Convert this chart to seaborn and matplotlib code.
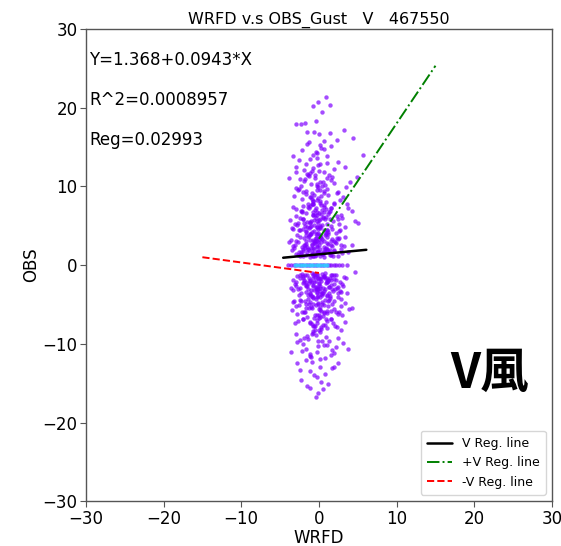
import matplotlib
matplotlib.use("Agg")
import matplotlib.pyplot as plt
import seaborn as sns
import numpy as np
import pandas as pd

# ---------------- data ----------------
# upper cloud, y in [1, 4]
u1_x = [-0.4, 1.2, -2.1, 0.3, -1.0, 2.4, -0.2, -3.1, 0.8, -1.6,
        0.1, -0.8, 1.7, -2.7, 0.5, -1.3, 3.2, -0.6, 1.0, -2.3,
        -1.9, 0.7, -0.1, 2.0, -3.5, -0.9, 1.4, -1.5, 0.2, 2.8,
        -0.5, 1.9, -2.5, 0.0, -1.2, 0.9, -3.0, 1.5, -0.3, -1.8,
        0.4, -0.7, 2.2, -1.4, 3.7, -0.2, -2.0, 1.1, -1.1, 0.6,
        -2.9, -0.4, 1.3, -1.7, 0.3, 2.6, -0.9, -3.3, 0.8, -0.1,
        -1.3, 1.6, -2.2, 0.1, -0.6, 2.9, -1.6, 0.5, -2.6, 1.8,
        -0.8, 0.9, -3.8, -0.3, 1.2, -1.9, 0.2, 2.3, -1.0, -0.5,
        3.0, -2.4, 0.6, -1.4, -0.2, 1.4, -3.2, 0.0, -0.9, 2.1,
        -1.7, 0.4, -0.6, 1.7, -2.8, -1.1, 0.7, 4.2, -0.4, -2.1,
        0.2, -1.5, 2.5, -0.7, 1.0, -2.3, -0.1, -3.6, 1.5, -1.2,
        -0.3, 0.8, -1.8, 3.4, -0.8, 0.3, -2.7, 1.1, -0.5, 2.0]
u1_y = [1.3, 2.7, 1.8, 3.5, 2.2, 1.1, 3.9, 2.6, 1.6, 3.1,
        2.0, 1.2, 3.3, 2.9, 1.5, 3.7, 2.4, 2.8, 1.9, 1.4,
        3.4, 2.3, 1.7, 3.0, 1.9, 2.5, 1.3, 1.6, 3.8, 2.1,
        1.1, 1.8, 3.6, 2.6, 3.2, 3.9, 1.4, 2.5, 3.0, 2.2,
        3.3, 1.5, 2.8, 2.0, 1.7, 2.3, 1.2, 3.6, 3.9, 1.0,
        3.1, 3.5, 1.6, 1.3, 2.9, 3.4, 2.7, 2.4, 2.1, 1.8,
        1.9, 3.0, 2.3, 3.7, 2.0, 2.6, 3.8, 1.4, 1.7, 1.2,
        3.2, 2.2, 2.9, 1.6, 3.9, 2.5, 1.1, 3.5, 1.3, 2.8,
        1.5, 1.1, 3.1, 3.6, 2.4, 1.9, 2.2, 3.3, 1.7, 2.9,
        2.7, 1.4, 3.0, 2.4, 3.8, 1.0, 1.8, 2.6, 3.4, 2.1,
        3.6, 2.3, 3.3, 1.2, 2.0, 1.6, 2.9, 3.2, 1.3, 3.9,
        1.7, 3.8, 2.6, 3.6, 2.2, 1.5, 1.3, 2.8, 3.1, 1.9]
# upper cloud, y in [4, 8]
u2_x = [-0.6, 1.4, -2.3, 0.2, -1.1, 2.6, -0.2, -3.4, 0.9, -1.5,
        0.5, -0.9, 1.9, -2.8, 0.0, -1.7, 3.3, -0.4, 1.1, -2.0,
        -1.3, 0.7, -0.1, 2.2, -3.0, -0.7, 1.5, -2.5, 0.3, 4.6,
        -0.5, 1.7, -1.9, 0.1, -1.0, 0.9, -3.7, 2.8, -0.3, -1.4,
        0.4, -0.8, 2.4, -1.6, 3.8, -0.2, -2.2, 1.2, -1.2, 0.6,
        -2.6, -0.5, 1.3, -1.8, 0.2, 3.0, -0.9, -3.1, 0.8, -0.1,
        -1.1, 1.6, -2.0, 0.0, -0.6, 2.0, -1.5, 0.5, -2.9, 1.0,
        -0.7, 1.0, -3.3, -0.3, 1.4, -2.1, 0.3, 2.6, -1.0, -0.4,
        5.0, -2.4, 0.6, -1.3, -0.2, 1.8, -3.5, 0.1, -0.8, 2.3,
        -1.7, 0.4, -0.6, 1.2, -2.7, -1.2, 0.7, 3.6, -0.4, -2.2,
        0.2, -1.4, 2.7, -0.7, 0.9, -2.0, -0.1, 4.3, 1.5, -1.0]
u2_y = [4.3, 5.8, 6.9, 4.9, 7.5, 5.2, 6.3, 4.6, 7.1, 5.5,
        6.0, 4.2, 7.8, 5.1, 5.7, 6.6, 4.8, 7.3, 4.4, 5.9,
        4.7, 6.8, 5.3, 4.1, 6.2, 7.7, 5.0, 4.5, 6.5, 5.6,
        7.0, 4.6, 5.4, 7.9, 4.0, 6.1, 5.7, 6.4, 4.9, 7.4,
        5.1, 6.7, 5.9, 4.3, 7.2, 5.6, 6.9, 4.2, 5.3, 7.6,
        4.4, 6.3, 6.8, 5.0, 4.7, 6.0, 7.8, 5.2, 5.8, 4.1,
        5.5, 7.3, 4.6, 6.6, 5.1, 7.9, 4.9, 6.1, 7.1, 4.5,
        6.4, 5.2, 7.4, 4.8, 6.9, 5.9, 7.6, 4.3, 5.0, 4.0,
        5.4, 6.0, 4.4, 7.2, 6.7, 5.6, 4.7, 5.8, 7.7, 6.2,
        4.2, 7.0, 5.7, 6.5, 5.3, 4.9, 7.4, 7.8, 6.0, 6.8,
        5.0, 7.7, 4.5, 6.3, 4.1, 7.5, 4.6, 6.9, 7.3, 5.6]
# upper cloud, y in [8, 12]
u3_x = [-0.9, 1.1, -2.4, 0.1, -1.4, 2.3, -0.3, -3.2, 0.6, -1.7,
        0.4, -1.0, 1.7, -2.7, -0.2, -1.9, 3.5, -0.5, 0.9, -2.1,
        -1.2, 0.7, -0.1, 2.0, -3.0, -0.7, 1.3, -2.3, 0.2, 4.0,
        -0.6, 1.5, -1.6, 0.0, -1.1, 0.8, -3.9, 2.7, -0.3, -1.3,
        0.5, -0.8, 2.4, -1.5, 3.1, -0.1, -2.2, 1.0, -1.0, 0.3,
        -2.6, -0.5, 1.2, -1.8, 0.1, 4.9, -0.9, -2.9, 0.6, -0.2]
u3_y = [8.4, 9.7, 10.9, 8.1, 11.5, 9.2, 10.3, 8.8, 11.8, 9.0,
        10.1, 8.6, 11.2, 9.5, 8.3, 10.7, 9.9, 11.0, 8.0, 9.3,
        11.7, 9.1, 8.5, 10.4, 9.8, 8.2, 11.4, 10.0, 9.6, 10.6,
        8.9, 10.8, 9.4, 11.9, 8.7, 10.2, 11.1, 8.3, 9.6, 11.3,
        10.5, 8.1, 9.3, 11.6, 8.6, 9.9, 8.4, 11.0, 10.3, 8.8,
        9.7, 11.4, 8.9, 10.9, 10.6, 11.2, 9.1, 11.8, 9.4, 10.0]
# upper cloud, y in [12, 16]
u4_x = [-0.8, 1.0, -2.2, 0.2, -1.5, 2.5, -0.3, -3.0, 0.7, -1.1,
        0.3, -1.9, 1.6, -2.6, -0.1, -0.7, 3.4, -1.3, 1.1, -0.4,
        -1.6, 0.6, -0.2, 1.9, -3.3, 0.1, 5.7, -0.9, 2.3, 4.4]
u4_y = [12.3, 13.8, 14.6, 12.9, 15.4, 13.1, 14.2, 12.5, 15.8, 13.5,
        14.9, 12.1, 15.1, 13.3, 12.7, 14.0, 12.4, 15.6, 13.0, 14.4,
        12.8, 14.7, 13.6, 12.2, 13.9, 15.3, 14.0, 12.0, 15.9, 16.2]
# upper outliers, y > 16
u5_x = [0.9, -0.1, 1.4, -0.8, 0.4, -0.4, -3.0, -2.3, -1.8, -1.5, -0.6, 0.0, 1.4, 3.2]
u5_y = [21.4, 20.7, 20.4, 20.2, 19.4, 18.3, 17.9, 17.9, 18.0, 16.9, 16.9, 16.7, 16.8, 17.1]

# lower cloud, y in [-1, -4]
l1_x = [-0.2, 1.3, -1.9, 0.5, -0.9, 2.2, -0.1, -2.9, 1.0, -1.4,
        0.3, -0.6, 1.8, -2.5, 0.7, -1.2, 3.0, -0.4, 1.2, -2.1,
        -1.7, 0.9, 0.1, 2.1, -3.3, -0.7, 1.5, -1.3, 0.4, 2.7,
        -0.3, 2.0, -2.3, 0.2, -1.0, 1.1, -2.8, 1.6, -0.1, -1.6,
        0.6, -0.5, 2.4, -1.2, 3.5, 0.0, -1.8, 1.3, -0.9, 0.8,
        -2.7, -0.2, 1.4, -1.5, 0.5, 2.8, -0.7, -3.1, 1.0, 0.1,
        -1.1, 1.7, -2.0, 0.3, -0.4, 3.1, -1.4, 0.7, -2.4, 1.9,
        -0.6, 1.1, -3.6, -0.1, 1.4, -1.7, 0.4, 2.5, -0.8, -0.3,
        3.2, -2.2, 0.8, -1.2, 0.0, 1.6, -3.0, 0.2, -0.7, 2.3,
        -1.5, 0.6, -0.4, 1.9, -2.6, -0.9, 0.9, 4.6, -0.2, -1.9,
        0.4, -1.3, 2.7, -0.5, 1.2, -2.1, 0.1, -3.4, 1.7, -1.0,
        -0.1, 1.0, -1.6, 3.6, -0.6, 0.5, -2.5, 1.3, -0.3, 2.2]
l1_y = [-1.3, -2.8, -1.9, -3.5, -2.2, -1.2, -3.9, -2.6, -1.6, -3.1,
        -2.0, -1.1, -3.3, -2.9, -1.5, -3.7, -2.4, -2.8, -1.9, -1.4,
        -3.4, -2.3, -1.7, -3.0, -1.9, -2.5, -1.3, -1.6, -3.8, -2.1,
        -1.1, -1.8, -3.6, -2.6, -3.2, -3.9, -1.4, -2.5, -3.0, -2.2,
        -3.3, -1.5, -2.8, -2.0, -1.7, -2.3, -1.2, -3.6, -3.9, -1.0,
        -3.1, -3.5, -1.6, -1.3, -2.9, -3.4, -2.7, -2.4, -2.1, -1.8,
        -1.9, -3.0, -2.3, -3.7, -2.0, -2.6, -3.8, -1.4, -1.7, -1.2,
        -3.2, -2.2, -2.9, -1.6, -3.9, -2.5, -1.1, -3.5, -1.3, -2.8,
        -1.5, -1.1, -3.1, -3.6, -2.4, -1.9, -2.2, -3.3, -1.7, -2.9,
        -2.7, -1.4, -3.0, -2.4, -3.8, -1.0, -1.8, -0.9, -3.4, -2.1,
        -3.6, -2.3, -3.3, -1.2, -2.0, -1.6, -2.9, -3.2, -1.3, -3.9,
        -1.7, -3.8, -2.6, -3.6, -2.2, -1.5, -1.3, -2.8, -3.1, -1.9]
# lower cloud, y in [-4, -8]
l2_x = [-0.4, 1.6, -2.1, 0.4, -0.9, 2.8, 0.0, -3.2, 1.1, -1.3,
        0.7, -0.7, 2.1, -2.6, 0.2, -1.5, 3.4, -0.2, 1.3, -1.8,
        -1.1, 0.9, 0.1, 2.4, -2.8, -0.5, 1.7, -2.3, 0.5, 3.9,
        -0.3, 1.9, -1.7, 0.3, -0.8, 1.1, -3.5, 3.0, -0.1, -1.2,
        0.6, -0.6, 2.6, -1.4, 3.3, 0.0, -2.0, 1.4, -1.0, 0.8,
        -2.4, -0.3, 1.5, -1.6, 0.4, 2.2, -0.7, -2.9, 1.0, 0.1,
        -0.9, 1.8, -1.8, 0.2, -0.4, 2.3, -1.3, 0.7, -2.7, 1.2,
        -0.5, 1.2, -3.1, -0.1, 1.6, -1.9, 0.5, 2.9, -0.8, -0.2,
        4.3, -2.2, 0.8, -1.1, 0.0, 2.0, -3.3, 0.3, -0.6, 2.5]
l2_y = [-4.3, -5.8, -6.9, -4.9, -7.5, -5.2, -6.3, -4.6, -7.1, -5.5,
        -6.0, -4.2, -7.8, -5.1, -5.7, -6.6, -4.8, -7.3, -4.4, -5.9,
        -4.7, -6.8, -5.3, -4.1, -6.2, -7.7, -5.0, -4.5, -6.5, -5.6,
        -7.0, -4.6, -5.4, -7.9, -4.0, -6.1, -5.7, -6.4, -4.9, -7.4,
        -5.1, -6.7, -5.9, -4.3, -7.2, -5.6, -6.9, -4.2, -5.3, -7.6,
        -4.4, -6.3, -6.8, -5.0, -4.7, -6.0, -7.8, -5.2, -5.8, -4.1,
        -5.5, -7.3, -4.6, -6.6, -5.1, -7.9, -4.9, -6.1, -7.1, -4.5,
        -6.4, -5.2, -7.4, -4.8, -6.9, -5.9, -7.6, -4.3, -5.0, -4.0,
        -5.4, -6.0, -4.4, -7.2, -6.7, -5.6, -4.7, -5.8, -7.7, -6.2]
# lower cloud, y in [-8, -12]
l3_x = [-0.7, 1.3, -2.2, 0.3, -1.2, 2.5, -0.1, -3.0, 0.8, -1.5,
        0.6, -0.8, 1.9, -2.5, 0.0, -1.7, 3.1, -0.3, 1.1, -1.9,
        -1.0, 0.9, 0.1, 2.2, -2.8, -0.5, 1.5, -2.1, 0.4, 3.8,
        -0.4, 1.7, -1.4, 0.2, -0.9, 1.0, -3.6, 2.9, -0.1, -1.1]
l3_y = [-8.4, -9.7, -10.9, -8.1, -11.5, -9.2, -10.3, -8.8, -11.8, -9.0,
        -10.1, -8.6, -11.2, -9.5, -8.3, -10.7, -9.9, -11.0, -8.0, -9.3,
        -11.7, -9.1, -8.5, -10.4, -9.8, -8.2, -11.4, -10.0, -9.6, -10.6,
        -8.9, -10.8, -9.4, -11.9, -8.7, -10.2, -11.1, -8.3, -9.6, -11.3]
# lower cloud, y below -12
l4_x = [-0.9, 0.8, -2.3, 0.2, -1.5, 1.7, -0.3, -2.8, 0.5, -1.1,
        0.3, -1.7, 1.2, -2.4, -0.1, -0.6, 2.4, -1.2, 1.9, -0.4]
l4_y = [-12.3, -13.8, -14.6, -12.9, -15.4, -13.1, -14.2, -12.5, -15.8, -13.5,
        -14.9, -12.1, -15.1, -13.3, -16.2, -14.0, -12.4, -15.6, -13.0, -16.8]

# observations equal to zero
zero_x = [-4.0, -3.6, -3.2, -2.9, -2.6, -2.3, -2.0, -1.7, -1.4, -1.1, -0.8, -0.5,
          -0.2, 0.1, 0.4, 0.7, 1.0, 1.3, 1.6, 1.9, 2.2, 2.6, 3.0, 3.6]
cyan_x = [-3.1, -2.8, -2.5, -2.2, -1.9, -1.6, -1.3, -1.0, -0.7, -0.4, -0.1,
          0.2, 0.5, 0.8, 1.1]

# regression lines: intercept, slope, x range
reg_all = (1.368, 0.0943, -4.6, 6.1)
reg_pos = (3.35, 1.465, 0.0, 15.0)
reg_neg = (-1.0, -0.1333, -15.0, 0.0)

title = "WRFD v.s OBS_Gust   V   467550"
stat_lines = ["Y=1.368+0.0943*X", "R^2=0.0008957", "Reg=0.02993"]

# ---------------- plotting ----------------
sns.set_theme(style="white")
plt.rcParams['font.family'] = ['DejaVu Sans']
for k in ["text.color", "axes.labelcolor", "xtick.color", "ytick.color"]:
    plt.rcParams[k] = "black"

fig = plt.figure(figsize=(5.61, 5.46), dpi=100)
ax = fig.add_axes([0.153, 0.082, 0.831, 0.865])

xs = u1_x + u2_x + u3_x + u4_x + u5_x + l1_x + l2_x + l3_x + l4_x + zero_x
ys = u1_y + u2_y + u3_y + u4_y + u5_y + l1_y + l2_y + l3_y + l4_y + [0.0] * len(zero_x)
df = pd.DataFrame({"WRFD": xs, "OBS": ys})
sns.scatterplot(data=df, x="WRFD", y="OBS", color="#7f00ff", s=10, alpha=0.7,
                linewidth=0, ax=ax, legend=False)
sns.scatterplot(x=cyan_x, y=[0.0] * len(cyan_x), color="#33ccff", s=9, alpha=0.85,
                linewidth=0, ax=ax, legend=False)

def draw_reg(params, **kw):
    a, b, x0, x1 = params
    xx = np.array([x0, x1])
    ax.plot(xx, a + b * xx, **kw)

draw_reg(reg_all, color="black", lw=1.8, ls="-", label="V Reg. line")
draw_reg(reg_pos, color="green", lw=1.4, ls="-.", label="+V Reg. line")
draw_reg(reg_neg, color="red", lw=1.4, ls="--", label="-V Reg. line")

ax.set_xlim(-30, 30)
ax.set_ylim(-30, 30)
ax.set_xticks(range(-30, 31, 10))
ax.set_yticks(range(-30, 31, 10))
ax.tick_params(axis="both", labelsize=12, length=4, width=0.8, direction="out",
               bottom=True, left=True, color="#555555", pad=2)
for sp in ax.spines.values():
    sp.set_color("#555555")
    sp.set_linewidth(1.0)
ax.set_xlabel("WRFD", fontsize=12, labelpad=1)
ax.set_ylabel("OBS", fontsize=12, labelpad=2)
ax.set_title(title, fontsize=11.5, pad=4)

for t, yv in zip(stat_lines, [26.0, 21.0, 15.9]):
    ax.text(-29.6, yv, t, fontsize=12, va="center", ha="left")

ax.text(22.0, -13.8, "V風", fontsize=35, fontweight="bold", ha="center", va="center",
        color="black", family=["Noto Sans CJK TC", "DejaVu Sans"])

leg = ax.legend(loc="lower right", fontsize=9, frameon=True, handlelength=2.0,
                borderpad=0.5, labelspacing=0.5)
leg.get_frame().set_edgecolor("#cccccc")

fig.savefig("out.png", dpi=100)
